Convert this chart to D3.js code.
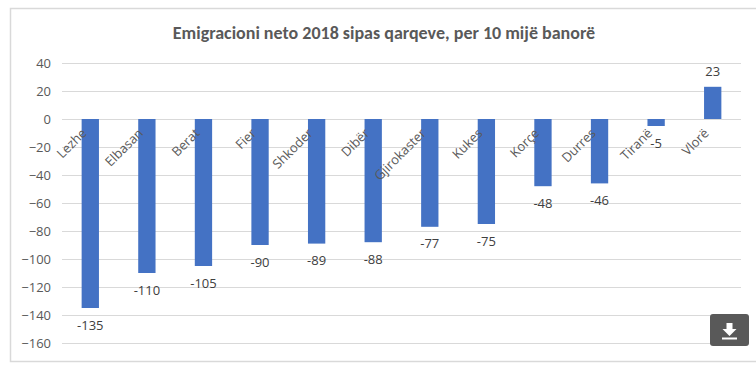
<!DOCTYPE html>
<html><head><meta charset="utf-8">
<script src="https://cdn.jsdelivr.net/npm/d3@7"></script>
<style>html,body{margin:0;padding:0;background:#fff;}svg{display:block;}</style>
</head><body>
<script>
const categories = ["Lezhe","Elbasan","Berat","Fier","Shkoder","Dibër","Gjirokaster","Kukes","Korçe","Durres","Tiranë","Vlorë"];
const values = [-135,-110,-105,-90,-89,-88,-77,-75,-48,-46,-5,23];
const yTicks = [40,20,0,-20,-40,-60,-80,-100,-120,-140,-160];
const title = "Emigracioni neto 2018 sipas qarqeve, per 10 mijë banorë";

const W = 756, H = 365;
const svg = d3.select("body").append("svg").attr("width", W).attr("height", H);
const titleFont = "Carlito, Lato, sans-serif";
const font = "'Open Sans', 'DejaVu Sans', sans-serif";

// chart border
svg.append("rect").attr("x", 10.5).attr("y", 8.5).attr("width", 760).attr("height", 353)
  .attr("fill", "#fff").attr("stroke", "#d9d9d9").attr("stroke-width", 1.5);

const x = d3.scaleBand().domain(categories).range([62, 741]).padding(0);
const y = d3.scaleLinear().domain([-160, 40]).range([343, 63]);

// gridlines
svg.append("g").selectAll("line").data(yTicks).join("line")
  .attr("x1", 62).attr("x2", 741)
  .attr("y1", d => Math.round(y(d)) + 0.5).attr("y2", d => Math.round(y(d)) + 0.5)
  .attr("stroke", "#d9d9d9").attr("stroke-width", 1);

// y axis labels
const yAxis = d3.axisLeft(y).tickValues(yTicks).tickSize(0).tickPadding(0).tickFormat(d3.format("d"));
const ga = svg.append("g").attr("transform", "translate(51,0)").call(yAxis);
ga.select(".domain").remove();
ga.selectAll("text").attr("fill", "#595959").style("font-family", font).style("font-size", "13px");

// bars
const bw = x.bandwidth() * 0.306;
svg.append("g").selectAll("rect").data(values).join("rect")
  .attr("x", (d, i) => x(categories[i]) + x.bandwidth() / 2 - bw / 2)
  .attr("width", bw)
  .attr("y", d => y(Math.max(0, d)))
  .attr("height", d => Math.abs(y(d) - y(0)))
  .attr("fill", "#4472c4");

// category labels (rotated)
svg.append("g").selectAll("text").data(categories).join("text")
  .attr("transform", d => `translate(${x(d) + x.bandwidth() / 2 - 3},${y(0) + 15}) rotate(-45)`)
  .attr("text-anchor", "end")
  .attr("fill", "#595959")
  .style("font-family", font).style("font-size", "13px")
  .text(d => d);

// data labels
svg.append("g").selectAll("text").data(values).join("text")
  .attr("x", (d, i) => x(categories[i]) + x.bandwidth() / 2)
  .attr("y", d => d < 0 ? y(d) + 17 : y(d) - 15)
  .attr("dy", "0.35em")
  .attr("text-anchor", "middle")
  .attr("fill", "#404040")
  .style("font-family", font).style("font-size", "13px")
  .text(d => d);

// title
svg.append("text").attr("x", 384).attr("y", 39).attr("text-anchor", "middle")
  .attr("fill", "#595959").style("font-family", titleFont).style("font-size", "18px").style("font-weight", "bold")
  .text(title);

// download button
const btn = svg.append("g").attr("transform", "translate(710,314)");
btn.append("rect").attr("width", 39).attr("height", 32).attr("rx", 3).attr("fill", "#595959");
btn.append("path").attr("d", "M16.5,9 h6 v6 h4 l-7,7 l-7,-7 h4 z").attr("fill", "#fff");
btn.append("rect").attr("x", 12).attr("y", 23.5).attr("width", 15).attr("height", 2).attr("fill", "#fff");
</script>
</body></html>
